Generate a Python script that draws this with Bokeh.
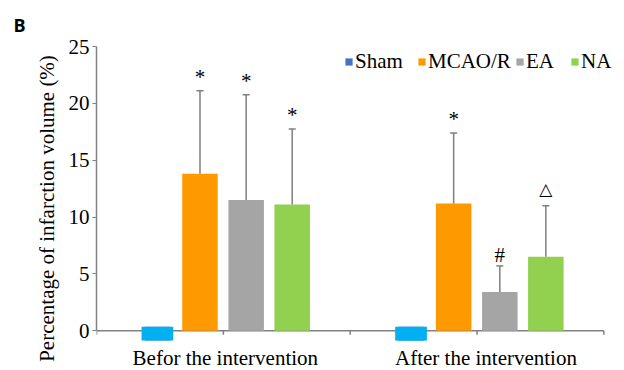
from bokeh.plotting import figure
from bokeh.models import ColumnDataSource, FixedTicker, Legend, LegendItem, Range1d, Title
from bokeh.core.properties import value
from bokeh.embed import file_html
from bokeh.resources import INLINE

# ---------------- data ----------------
groups = ["Befor the intervention", "After the intervention"]
series = ["Sham", "MCAO/R", "EA", "NA"]
# Sham bars: thin block straddling the zero line
sham_top = [0.35, 0.35]
sham_bottom = [-0.87, -0.87]
mcao = [13.8, 11.2]
ea = [11.5, 3.4]
na = [11.1, 6.5]
mcao_err = [7.3, 6.2]
ea_err = [9.25, 2.3]
na_err = [6.65, 4.5]
mcao_mark = ["*", "*"]
ea_mark = ["*", "#"]
na_mark = ["*", "\u25b3"]
y_ticks = [0, 5, 10, 15, 20, 25]
x_ticks = [0, 1, 2, 3, 4]

# ---------------- style ----------------
FONT = "Liberation Serif"
FS = "21px"
AX = "#808080"
bar_colors = ["#00B0F0", "#FF9900", "#A5A5A5", "#92D050"]
sham_legend_color = "#4472C4"
offsets = [-0.52, -0.184, 0.18, 0.543]
widths = [0.25, 0.28, 0.28, 0.28]
ERR = "#7F7F7F"
TICK_DEPTH = 0.35                    # data units (~4 px)
mark_style = {  # font, size, screen y offset
    "*": (FONT, "21px", -14),
    "#": (FONT, "21px", -11),
    "\u25b3": ("DejaVu Sans", "17px", -17),
}
legend_x = [248, 321, 419, 474]      # screen px from frame left
label_dx = [2, 9]                    # screen px nudges of group labels

group_x = [1 + 2 * i for i in range(len(groups))]

p = figure(width=624, height=370, output_backend="svg", toolbar_location=None,
           x_range=Range1d(0, 4.1), y_range=Range1d(-3.5, 25),
           x_axis_location=None,
           min_border_left=96, min_border_right=8, min_border_top=44,
           min_border_bottom=0)
p.outline_line_color = None
p.xgrid.visible = False
p.ygrid.visible = False

# category axis along the zero line (drawn first, bars sit over it)
p.segment(x0=[x_ticks[0]], y0=[0], x1=[x_ticks[-1]], y1=[0],
          line_color=AX, line_width=1.5)
p.segment(x0=x_ticks, y0=[0] * len(x_ticks), x1=x_ticks,
          y1=[-TICK_DEPTH] * len(x_ticks), line_color=AX, line_width=1.5)

# sham (legend swatch colour differs from the bar colour in the original)
sham_x = [g + offsets[0] for g in group_x]
sham_legend_r = p.vbar(x=sham_x, top=sham_top, bottom=sham_bottom,
                       width=widths[0] * 0.8, fill_color=sham_legend_color,
                       line_color=None)
p.vbar(x=sham_x, top=sham_top, bottom=sham_bottom,
       width=widths[0], fill_color=bar_colors[0], line_color=None)

renderers = [sham_legend_r]
data = [(mcao, mcao_err, mcao_mark), (ea, ea_err, ea_mark), (na, na_err, na_mark)]
for k, (vals, errs, marks) in enumerate(data, start=1):
    xs = [g + offsets[k] for g in group_x]
    tops = [v + e for v, e in zip(vals, errs)]
    src = ColumnDataSource(dict(
        x=xs, top=vals, etop=tops, mark=marks,
        mfont=[mark_style[m][0] for m in marks],
        msize=[mark_style[m][1] for m in marks],
        mdy=[mark_style[m][2] for m in marks]))
    r = p.vbar(x="x", top="top", bottom=0, width=widths[k], source=src,
               fill_color=bar_colors[k], line_color=None)
    renderers.append(r)
    p.segment(x0="x", y0="top", x1="x", y1="etop", source=src,
              line_color=ERR, line_width=1.5)
    p.scatter(x="x", y="etop", marker="dash", size=7, source=src,
              line_color=ERR, line_width=1.5)
    p.text(x="x", y="etop", text="mark", source=src, text_align="center",
           text_baseline="alphabetic", y_offset="mdy",
           text_font="mfont", text_font_size="msize", text_color="#000000")

# group labels under the zero-line axis
p.text(x=group_x, y=[0] * len(groups), text=groups, x_offset=label_dx,
       y_offset=27, text_align="center", text_baseline="alphabetic",
       text_font=value(FONT), text_font_size=FS, text_color="#000000")

# y axis
ya = p.yaxis[0]
ya.ticker = FixedTicker(ticks=y_ticks)
ya.bounds = (0, 25)
ya.axis_line_color = AX
ya.axis_line_width = 1.5
ya.major_tick_line_color = AX
ya.major_tick_in = 0
ya.major_tick_out = 4
ya.minor_tick_line_color = None
ya.major_label_standoff = 3
ya.major_label_text_font = FONT
ya.major_label_text_font_size = FS
ya.major_label_text_color = "#000000"
ya.axis_label = "Percentage of infarction volume (%)"
ya.axis_label_text_font = FONT
ya.axis_label_text_font_size = FS
ya.axis_label_text_font_style = "normal"
ya.axis_label_text_color = "#000000"
ya.axis_label_standoff = 7

# legend: one entry per box so each sits where the original has it
for name, r, lx in zip(series, renderers, legend_x):
    lg = Legend(items=[LegendItem(label=name, renderers=[r])], location=(lx, 296),
                orientation="horizontal", glyph_width=9, glyph_height=9,
                label_standoff=2, padding=0, margin=0, border_line_color=None,
                background_fill_alpha=0, label_text_font=FONT,
                label_text_font_size=FS, label_text_color="#000000")
    p.add_layout(lg)

p.title = Title(text="B", align="left", offset=-83, standoff=20,
                text_font="Open Sans", text_font_style="bold",
                text_font_size="18px", text_color="#000000")

open("out.html", "w").write(file_html(p, INLINE))
